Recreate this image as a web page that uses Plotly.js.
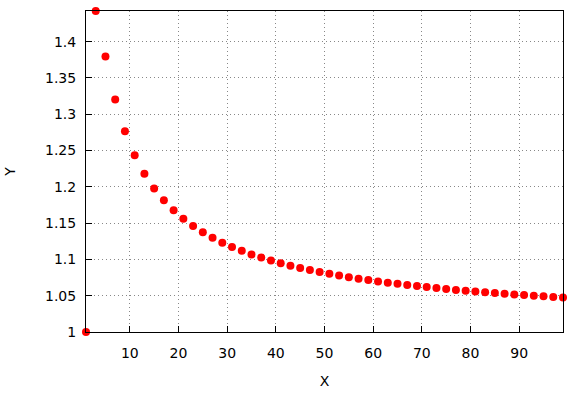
<!DOCTYPE html>
<html>
<head>
<meta charset="utf-8">
<script src="https://cdn.plot.ly/plotly-3.0.1.min.js"></script>
<style>html,body{margin:0;padding:0;background:#fff;}#plot{width:577px;height:398px;}</style>
</head>
<body>
<div id="plot"></div>
<script>
var xValues = [1,3,5,7,9,11,13,15,17,19,21,23,25,27,29,31,33,35,37,39,41,43,45,47,49,51,53,55,57,59,61,63,65,67,69,71,73,75,77,79,81,83,85,87,89,91,93,95,97,99];
var yValues = [1.0,1.44225,1.37973,1.32047,1.27675,1.24357,1.2181,1.19786,1.18136,1.16762,1.15601,1.14605,1.13741,1.12983,1.12312,1.11714,1.11177,1.10692,1.10252,1.09849,1.0948,1.09141,1.08827,1.08537,1.08266,1.08015,1.07779,1.07558,1.07351,1.07156,1.06971,1.06798,1.06633,1.06477,1.06329,1.06188,1.06054,1.05926,1.05803,1.05687,1.05575,1.05468,1.05366,1.05267,1.05173,1.05082,1.04995,1.0491,1.04829,1.04751];
var xTicks = [10,20,30,40,50,60,70,80,90];
var yTicks = [1,1.05,1.1,1.15,1.2,1.25,1.3,1.35,1.4];
var yTickText = ['1','1.05','1.1','1.15','1.2','1.25','1.3','1.35','1.4'];

var trace = {
  x: xValues, y: yValues, type: 'scatter', mode: 'markers',
  marker: {color: '#ff0000', size: 8},
  cliponaxis: false, hoverinfo: 'none'
};
var font = {family: 'DejaVu Sans, sans-serif', size: 14, color: '#000'};
var layout = {
  width: 577, height: 398,
  margin: {l: 85.5, r: 13.5, t: 11, b: 66, pad: 0},
  paper_bgcolor: '#fff', plot_bgcolor: '#fff',
  showlegend: false,
  font: font,
  xaxis: {
    range: [1, 99], tickvals: xTicks, ticktext: xTicks.map(String),
    ticks: 'inside', ticklen: 6, tickcolor: '#000', tickwidth: 1,
    showline: true, linecolor: '#000', linewidth: 1, mirror: true,
    showgrid: true, gridcolor: '#888888', griddash: '1px,3px', gridwidth: 1,
    zeroline: false, tickfont: font, ticklabelstandoff: 8,
    title: {text: 'X', font: font, standoff: 16}
  },
  yaxis: {
    range: [1, 1.44225], tickvals: yTicks, ticktext: yTickText,
    ticks: 'inside', ticklen: 6, tickcolor: '#000', tickwidth: 1,
    showline: true, linecolor: '#000', linewidth: 1, mirror: true,
    showgrid: true, gridcolor: '#888888', griddash: '1px,3px', gridwidth: 1,
    zeroline: false, tickfont: font, ticklabelstandoff: 6,
    title: {text: 'Y', font: font, standoff: 26}
  }
};
Plotly.newPlot('plot', [trace], layout, {staticPlot: true, displayModeBar: false});
</script>
</body>
</html>
